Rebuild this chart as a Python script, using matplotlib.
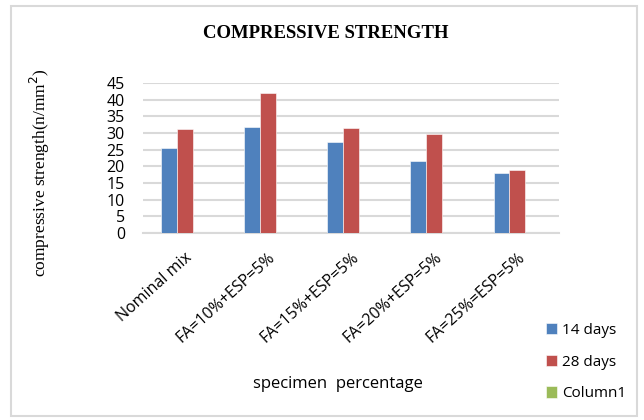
import matplotlib.pyplot as plt
import numpy as np
from matplotlib.patches import Rectangle

categories = ['Nominal mix', 'FA=10%+ESP=5%', 'FA=15%+ESP=5%', 'FA=20%+ESP=5%', 'FA=25%=ESP=5%']
days14 = [25.4, 31.7, 27.2, 21.7, 17.9]
days28 = [31.2, 41.9, 31.4, 29.7, 19.0]
column1 = [0, 0, 0, 0, 0]
series_names = ['14 days', '28 days', 'Column1']
colors = ['#4f81bd', '#c0504d', '#9bbb59']

fig = plt.figure(figsize=(6.44, 4.2), dpi=100)
fig.patches.append(Rectangle((11 / 644, 1 - 416 / 420), 626 / 644, 410 / 420,
                             transform=fig.transFigure, fill=False,
                             edgecolor='#d9d9d9', linewidth=1.5))

ax = fig.add_axes([143 / 644, 1 - 233 / 420, 416 / 644, 150 / 420])
x = np.arange(len(categories))
w = 0.19
for i, (vals, name) in enumerate(zip([days14, days28, column1], series_names)):
    ax.bar(x + (i - 1) * w, vals, w, color=colors[i], label=name,
           edgecolor='white', linewidth=0.4, zorder=3)

ax.set_xlim(-0.5, len(categories) - 0.5)
ax.set_ylim(0, 45)
ax.set_yticks(range(0, 46, 5))
ax.yaxis.grid(True, color='#d9d9d9', linewidth=1.5, zorder=0)
for s in ['top', 'right', 'left']:
    ax.spines[s].set_visible(False)
ax.spines['bottom'].set_color('#d9d9d9')
ax.spines['bottom'].set_linewidth(1.5)
ax.tick_params(axis='y', length=0, labelsize=11.5, colors='black', pad=13)
ax.tick_params(axis='x', length=0, colors='black', pad=12)
ax.set_xticks(x)
ax.set_xticklabels(categories, rotation=42, ha='right', rotation_mode='anchor',
                   fontsize=11.5, family='Open Sans')
for t in ax.get_yticklabels():
    t.set_family('Open Sans')

fig.text(326 / 644, 1 - 34 / 420, 'COMPRESSIVE STRENGTH', ha='center', va='center',
         fontsize=13.5, fontweight='bold', family='Liberation Serif')
fig.text(40 / 644, 1 - 173 / 420, 'compressive strength(n/mm$^2$)', rotation=90,
         ha='center', va='center', fontsize=12.5, family='Liberation Serif')
fig.text(338 / 644, 1 - 384 / 420, 'specimen  percentage', ha='center', va='center',
         fontsize=12, family='Open Sans')

fig.legend(loc='upper left', bbox_to_anchor=(532 / 644, 1 - 309 / 420), frameon=False,
           prop={'family': 'Open Sans', 'size': 11}, handlelength=0.75,
           handleheight=0.75, handletextpad=0.3, labelspacing=1.1)

fig.savefig('out.png', dpi=100)
